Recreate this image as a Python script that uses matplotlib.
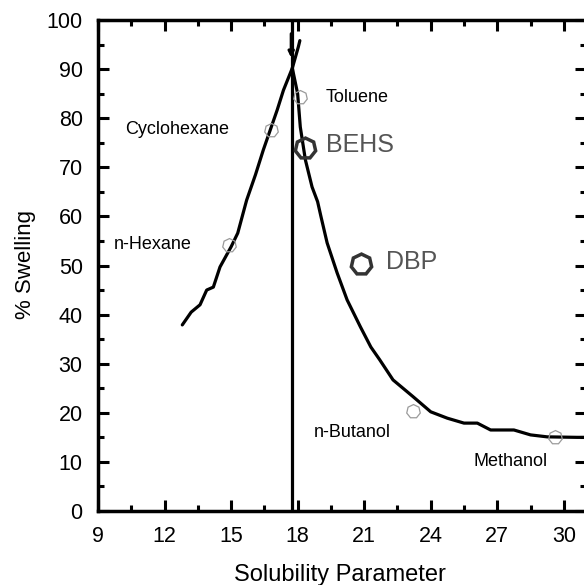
import numpy as np
import matplotlib
matplotlib.use("Agg")
import matplotlib.pyplot as plt
from matplotlib.ticker import MultipleLocator

plt.rcParams["font.family"] = ["Liberation Sans", "DejaVu Sans"]

# swelling curve
curve_x = [12.8, 13.2, 13.6, 13.9, 14.2, 14.5, 15.0, 15.3, 15.7, 16.1, 16.45,
           17.08, 17.36, 17.76, 18.03, 18.1]
curve_y = [37.9, 40.5, 42.0, 45.0, 45.6, 49.7, 53.8, 56.6, 63.3, 68.5, 73.5,
           81.7, 85.7, 90.2, 94.5, 95.8]
desc_x = [17.76, 18.0, 18.12, 18.35, 18.65, 18.9, 19.05, 19.33, 19.78, 20.23, 20.83,
          21.3, 21.7, 22.3, 23.2, 24.0, 24.75, 25.5, 26.1, 26.7, 27.75, 28.5, 29.25,
          30.6, 31.0]
desc_y = [90.2, 85.0, 78.2, 71.5, 66.0, 63.0, 60.0, 54.6, 48.5, 43.0, 37.5,
          33.4, 30.8, 26.7, 23.3, 20.2, 18.9, 17.9, 17.9, 16.5, 16.5, 15.5, 15.1,
          15.0, 15.0]

solvents = ["Toluene", "Cyclohexane", "n-Hexane", "n-Butanol", "Methanol"]
solv_x = [18.1, 16.8, 14.9, 23.2, 29.6]
solv_y = [84.3, 77.6, 54.2, 20.4, 15.1]
label_x = [20.68, 12.55, 11.48, 20.47, 27.6]
label_y = [84.3, 77.6, 54.2, 15.9, 10.0]

plasticizers = ["BEHS", "DBP"]
plast_x = [18.35, 20.85]
plast_y = [73.9, 50.3]
plast_lx = [20.83, 23.14]
plast_ly = [74.6, 50.8]

peak_x = 17.76

fig = plt.figure(figsize=(5.84, 5.85), dpi=100)
ax = fig.add_axes([98 / 584, 74 / 585, 488 / 584, 491 / 585])

ax.plot(curve_x, curve_y, color="black", lw=2.3, solid_capstyle="round")
ax.plot(desc_x, desc_y, color="black", lw=2.3, solid_capstyle="round")
ax.axvline(peak_x, color="black", lw=2.3)
ax.annotate("", xy=(peak_x - 0.05, 92.3), xytext=(peak_x - 0.05, 97.2),
            arrowprops=dict(arrowstyle="-|>", color="black", lw=2.2,
                            mutation_scale=8, shrinkA=0, shrinkB=0))

ax.plot(solv_x, solv_y, ls="none", marker=(7, 0, 0), markersize=10,
        markerfacecolor="none", markeredgecolor="#9a9a9a", markeredgewidth=0.9)
for name, lx, ly in zip(solvents, label_x, label_y):
    ax.text(lx, ly, name, fontsize=13, va="center", ha="center", color="black")

ax.plot(plast_x, plast_y, ls="none", marker=(7, 0, 0), markersize=15,
        markerfacecolor="none", markeredgecolor="#333333", markeredgewidth=2.5)
for name, lx, ly in zip(plasticizers, plast_lx, plast_ly):
    ax.text(lx, ly, name, fontsize=18, va="center", ha="center", color="#555555")

ax.set_xlim(9, 31)
ax.set_ylim(0, 100)
ax.xaxis.set_major_locator(MultipleLocator(3))
ax.xaxis.set_minor_locator(MultipleLocator(1.5))
ax.yaxis.set_major_locator(MultipleLocator(10))
ax.yaxis.set_minor_locator(MultipleLocator(5))
ax.tick_params(which="both", direction="in", top=True, right=True, width=2.2,
               labelsize=15.5, pad=11)
ax.tick_params(which="major", length=8)
ax.tick_params(which="minor", length=4)
for s in ax.spines.values():
    s.set_linewidth(2.5)

ax.set_xlabel("Solubility Parameter", fontsize=17)
ax.set_ylabel("% Swelling", fontsize=16)
ax.xaxis.set_label_coords(340 / 584, (585 - 575) / 585, transform=fig.transFigure)
ax.yaxis.set_label_coords(25 / 584, (585 - 265) / 585, transform=fig.transFigure)
ax.xaxis.label.set_va("center")
ax.yaxis.label.set_va("center")

fig.savefig("out.png", dpi=100)
